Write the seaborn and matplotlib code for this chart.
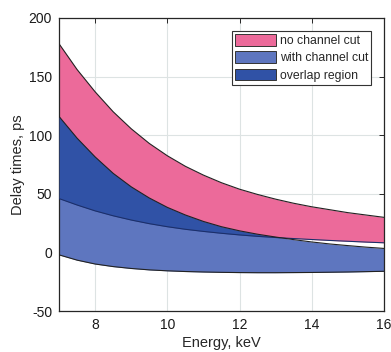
import numpy as np
import pandas as pd
import matplotlib
matplotlib.use("Agg")
import matplotlib.pyplot as plt
import seaborn as sns
from matplotlib.patches import Patch

# ============================================================
# DATA
# ============================================================
energy = [7, 7.5, 8, 8.5, 9, 9.5, 10, 10.5, 11, 11.5, 12, 12.5, 13, 13.5,
          14, 14.5, 15, 15.5, 16]
# no channel cut: upper / lower bound
nocut_upper = [178, 156, 137, 120, 105.5, 93, 82.5, 73.5, 66, 59.5, 54,
               49.5, 45.5, 42, 39, 36.5, 34, 32, 30]
nocut_lower = [46, 40.5, 35.5, 31.3, 27.7, 24.6, 22, 19.8, 18, 16.4, 15,
               13.8, 12.8, 11.9, 11.1, 10.3, 9.6, 8.9, 8.3]
# with channel cut: upper / lower bound
cut_upper = [116, 97.5, 81.5, 67.5, 56, 46.5, 38.5, 32, 26.5, 22, 18.5,
             15.6, 13.2, 11, 9, 7.3, 5.9, 4.6, 3.5]
cut_lower = [-2, -6.5, -9.8, -12, -13.6, -14.8, -15.6, -16.2, -16.6, -16.9,
             -17.1, -17.2, -17.2, -17.1, -17, -16.8, -16.6, -16.3, -16]

labels = ["no channel cut", "with channel cut", "overlap region"]
xticks = [8, 10, 12, 14, 16]
yticks = [-50, 0, 50, 100, 150, 200]

PINK = "#ec6a9a"
LIGHT_BLUE = "#5e76bf"
DARK_BLUE = "#3052a6"

# ============================================================
# STYLE
# ============================================================
sns.set_style("whitegrid")
plt.rcParams["font.family"] = ["Liberation Sans", "DejaVu Sans"]
plt.rcParams["axes.unicode_minus"] = False

df = pd.DataFrame({
    "energy": energy,
    "nocut_upper": nocut_upper,
    "nocut_lower": nocut_lower,
    "cut_upper": cut_upper,
    "cut_lower": cut_lower,
})

fig = plt.figure(figsize=(3.91, 3.52), dpi=100)
ax = fig.add_axes([0.151, 0.116, 0.831, 0.833])

x = df["energy"].to_numpy()
a = df["nocut_upper"].to_numpy()
b = df["nocut_lower"].to_numpy()
c = df["cut_upper"].to_numpy()
d = df["cut_lower"].to_numpy()

ax.fill_between(x, b, a, color=PINK, lw=0, zorder=2)
ax.fill_between(x, d, c, color=LIGHT_BLUE, lw=0, zorder=2)
ax.fill_between(x, b, c, where=c >= b, interpolate=True,
                color=DARK_BLUE, lw=0, zorder=3)

# boundary lines
long = df.melt(id_vars="energy", var_name="curve", value_name="delay")
sns.lineplot(data=long, x="energy", y="delay", hue="curve",
             palette={"nocut_upper": "#222222", "nocut_lower": "#1c2f6a",
                      "cut_upper": "#222222", "cut_lower": "#222222"},
             linewidth=0.8, legend=False, ax=ax, zorder=4)

ax.set_xlim(7, 16)
ax.set_ylim(-50, 200)
ax.set_xticks(xticks)
ax.set_yticks(yticks)
ax.set_xlabel("Energy, keV", fontsize=10.5, labelpad=3)
ax.set_ylabel("Delay times, ps", fontsize=10.5, labelpad=3)

ax.grid(True, color="#dde3e3", linewidth=0.8)
ax.set_axisbelow(True)
for s in ax.spines.values():
    s.set_color("#262626")
    s.set_linewidth(0.9)
ax.tick_params(direction="in", length=3.5, width=0.7, color="#262626",
               top=True, right=True, labelsize=10, pad=5,
               labelcolor="#1a1a1a")

handles = [Patch(facecolor=PINK, edgecolor="#333333", lw=0.7),
           Patch(facecolor=LIGHT_BLUE, edgecolor="#333333", lw=0.7),
           Patch(facecolor=DARK_BLUE, edgecolor="#333333", lw=0.7)]
leg = ax.legend(handles, labels, loc="upper right",
                bbox_to_anchor=(0.96, 0.956), fontsize=8.8,
                handlelength=3.35, handleheight=1.1, handletextpad=0.3,
                labelspacing=0.35, borderpad=0.25, borderaxespad=0,
                fancybox=False, framealpha=1)
leg.get_frame().set_edgecolor("#333333")
leg.get_frame().set_linewidth(0.8)

fig.savefig("out.png", dpi=100)
